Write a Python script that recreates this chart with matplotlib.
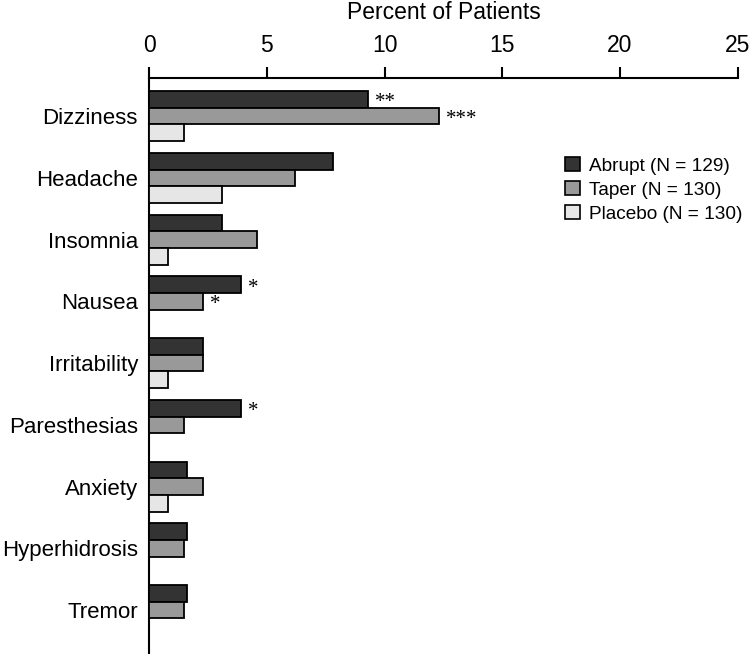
import matplotlib
matplotlib.use("Agg")
import matplotlib.pyplot as plt
import numpy as np
from matplotlib.patches import Patch

categories = ["Dizziness", "Headache", "Insomnia", "Nausea", "Irritability",
              "Paresthesias", "Anxiety", "Hyperhidrosis", "Tremor"]
abrupt = [9.3, 7.8, 3.1, 3.9, 2.3, 3.9, 1.6, 1.6, 1.6]
taper = [12.3, 6.2, 4.6, 2.3, 2.3, 1.5, 2.3, 1.5, 1.5]
placebo = [1.5, 3.1, 0.8, 0.0, 0.8, 0.0, 0.8, 0.0, 0.0]
abrupt_sig = ["**", "", "", "*", "", "*", "", "", ""]
taper_sig = ["***", "", "", "*", "", "", "", "", ""]
series_labels = ["Abrupt (N = 129)", "Taper (N = 130)", "Placebo (N = 130)"]
colors = ["#333333", "#999999", "#e6e6e6"]
xticks = [0, 5, 10, 15, 20, 25]

plt.rcParams['font.family'] = ['Liberation Sans', 'DejaVu Sans']

fig = plt.figure(figsize=(7.49, 6.54), dpi=100)
ax = fig.add_axes([0.199, 0.0, 0.786, 0.881])

n = len(categories)
y = np.arange(n)
h = 0.27
for i, (vals, col) in enumerate(zip([abrupt, taper, placebo], colors)):
    pos = y + (i - 1) * h
    ax.barh(pos, vals, height=h, color=col, edgecolor="black", linewidth=1.3, zorder=3)

star_kw = dict(fontsize=15, family=["Liberation Serif", "DejaVu Serif"],
               va="baseline", ha="left")
for j in range(n):
    if abrupt_sig[j]:
        ax.text(abrupt[j] + 0.3, y[j] - h + 0.13, abrupt_sig[j], **star_kw)
    if taper_sig[j]:
        ax.text(taper[j] + 0.3, y[j] + 0.13, taper_sig[j], **star_kw)

ax.set_ylim(n - 1 + 0.71, -0.62)
ax.set_xlim(0, 25)
ax.xaxis.tick_top()
ax.xaxis.set_label_position("top")
ax.set_xticks(xticks)
ax.set_xticklabels([str(t) for t in xticks])
ax.tick_params(axis="x", direction="out", length=8, width=1.5, labelsize=16.5, pad=7)
ax.set_xlabel("Percent of Patients", fontsize=16.5, labelpad=11)
ax.set_yticks(y)
ax.set_yticklabels(categories)
ax.tick_params(axis="y", length=0, labelsize=16, pad=8)
for s in ["right", "bottom"]:
    ax.spines[s].set_visible(False)
ax.spines["top"].set_linewidth(1.5)
ax.spines["left"].set_linewidth(1.5)

handles = [Patch(facecolor=c, edgecolor="black", linewidth=1.2) for c in colors]
fig.legend(handles, series_labels, loc="upper left", bbox_to_anchor=(0.754, 0.760),
           bbox_transform=fig.transFigure, frameon=False, fontsize=13.7,
           handlelength=0.79, handleheight=0.79, handletextpad=0.47,
           labelspacing=0.32, borderpad=0, borderaxespad=0)

fig.savefig("out.png", dpi=100)
